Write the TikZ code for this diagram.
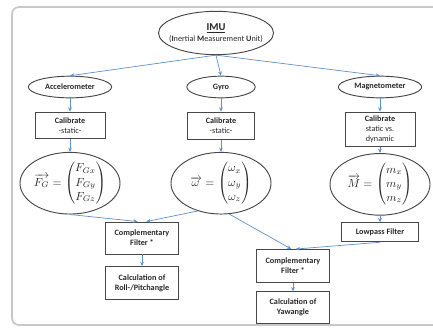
\documentclass[tikz,border=0pt]{standalone}
\usepackage{amsmath}
\usepackage{fontspec}
\setmainfont{Carlito}
\usetikzlibrary{arrows.meta,positioning,shapes.geometric}
\definecolor{ImuBlue}{RGB}{94,146,200}
\definecolor{ImuGrey}{RGB}{72,72,72}
\definecolor{ImuText}{RGB}{40,40,40}
\definecolor{ImuFrame}{RGB}{200,200,200}
\tikzset{
  oval/.style={ellipse, draw=ImuGrey, thick, inner sep=1pt, text=ImuText,
    align=center, minimum height=0.65cm, font=\fontsize{7}{8}\selectfont\bfseries},
  calbox/.style={rectangle, draw=ImuGrey, thick, text=ImuText, align=center,
    minimum width=2.1cm, font=\fontsize{7}{8.5}\selectfont},
  vecoval/.style={ellipse, draw=ImuGrey, thick, text=ImuText, minimum width=3cm,
    minimum height=1.85cm, inner sep=-6pt, font=\fontsize{10}{12}\selectfont},
  arrow/.style={-{Stealth[length=1.3mm, width=1.1mm]}, draw=ImuBlue, line width=0.6pt}
}

\begin{document}
\begin{tikzpicture}[x=0.03cm, y=-0.03cm]
  \useasboundingbox (0,0) rectangle (433,329);
  \draw[ImuFrame, line width=1.5pt, rounded corners=6pt] (12,7) rectangle (460,325);
  % sensors
  \node[oval, minimum width=3.45cm, minimum height=1.3cm, inner xsep=-9pt, inner ysep=-3pt,
    font=\fontsize{7}{9}\selectfont] (imu) at (216,33)
    {{\fontsize{9}{10}\selectfont\bfseries\underline{IMU}}\\(\textbf{I}nertial \textbf{M}easurement \textbf{U}nit)};
  \node[oval, minimum width=2.5cm] (acc) at (70,87) {Accelerometer};
  \node[oval, minimum width=2.05cm] (gyro) at (221,87) {Gyro};
  \node[oval, minimum width=2.5cm] (mag) at (380,87) {Magnetometer};
  % calibration
  \node[calbox, minimum height=0.8cm, below=0.4cm of acc] (calacc) {\textbf{Calibrate}\\-static-};
  \node[calbox, minimum width=2cm, minimum height=0.82cm, below=0.4cm of gyro] (calgyro) {\textbf{Calibrate}\\-static-};
  \node[calbox, minimum height=1.02cm, below=0.4cm of mag] (calmag) {\textbf{Calibrate}\\static vs.\\dynamic};
  % vectors
  \node[vecoval, below=0.38cm of calacc] (vacc)
    {$\overrightarrow{F_G}=\begin{pmatrix}F_{Gx}\\F_{Gy}\\F_{Gz}\end{pmatrix}$};
  \node[vecoval, below=0.36cm of calgyro] (vgyro)
    {$\overrightarrow{\omega\,}=\begin{pmatrix}\omega_x\\\omega_y\\\omega_z\end{pmatrix}$};
  \node[vecoval, below=0.17cm of calmag] (vmag)
    {$\overrightarrow{M}=\begin{pmatrix}m_x\\m_y\\m_z\end{pmatrix}$};
  % filters
  \node[calbox, font=\fontsize{7}{8.5}\selectfont\bfseries, minimum width=2.3cm, minimum height=0.57cm,
    below=0.2cm of vmag] (lowpass) {Lowpass Filter};
  \node[calbox, font=\fontsize{7}{8.5}\selectfont\bfseries, minimum width=2.2cm, minimum height=0.96cm]
    (compacc) at (142,238) {Complementary\\Filter *};
  \node[calbox, font=\fontsize{7}{8.5}\selectfont\bfseries, minimum width=2.2cm, minimum height=0.99cm,
    below=0.35cm of compacc] (roll) {Calculation of\\Roll-/Pitchangle};
  \node[calbox, font=\fontsize{7}{8.5}\selectfont\bfseries, minimum width=2.2cm, minimum height=0.99cm]
    (compmag) at (293,266) {Complementary\\Filter *};
  \node[calbox, font=\fontsize{7}{8.5}\selectfont\bfseries, minimum width=2.2cm, minimum height=0.96cm,
    below=0.25cm of compmag] (yaw) {Calculation of\\Yawangle};
  % connectors
  \draw[arrow] (imu.south) -- (acc.north);
  \draw[arrow] (imu.south) -- (gyro.north);
  \draw[arrow] (imu.south) -- (mag.north);
  \draw[arrow] (acc) -- (calacc);
  \draw[arrow] (gyro) -- (calgyro);
  \draw[arrow] (mag) -- (calmag);
  \draw[arrow] (calacc) -- (vacc);
  \draw[arrow] (calgyro) -- (vgyro);
  \draw[arrow] (calmag) -- (vmag);
  \draw[arrow] (vacc.south) -- ([xshift=-0.13cm]compacc.north);
  \draw[arrow] (vgyro.230) -- ([xshift=0.13cm]compacc.north);
  \draw[arrow] (vgyro.285) -- ([xshift=-0.05cm]compmag.north);
  \draw[arrow] (vmag) -- (lowpass);
  \draw[arrow] (lowpass.south) -- ([xshift=0.08cm]compmag.north);
  \draw[arrow] (compacc) -- (roll);
  \draw[arrow] (compmag) -- (yaw);
\end{tikzpicture}
\end{document}
